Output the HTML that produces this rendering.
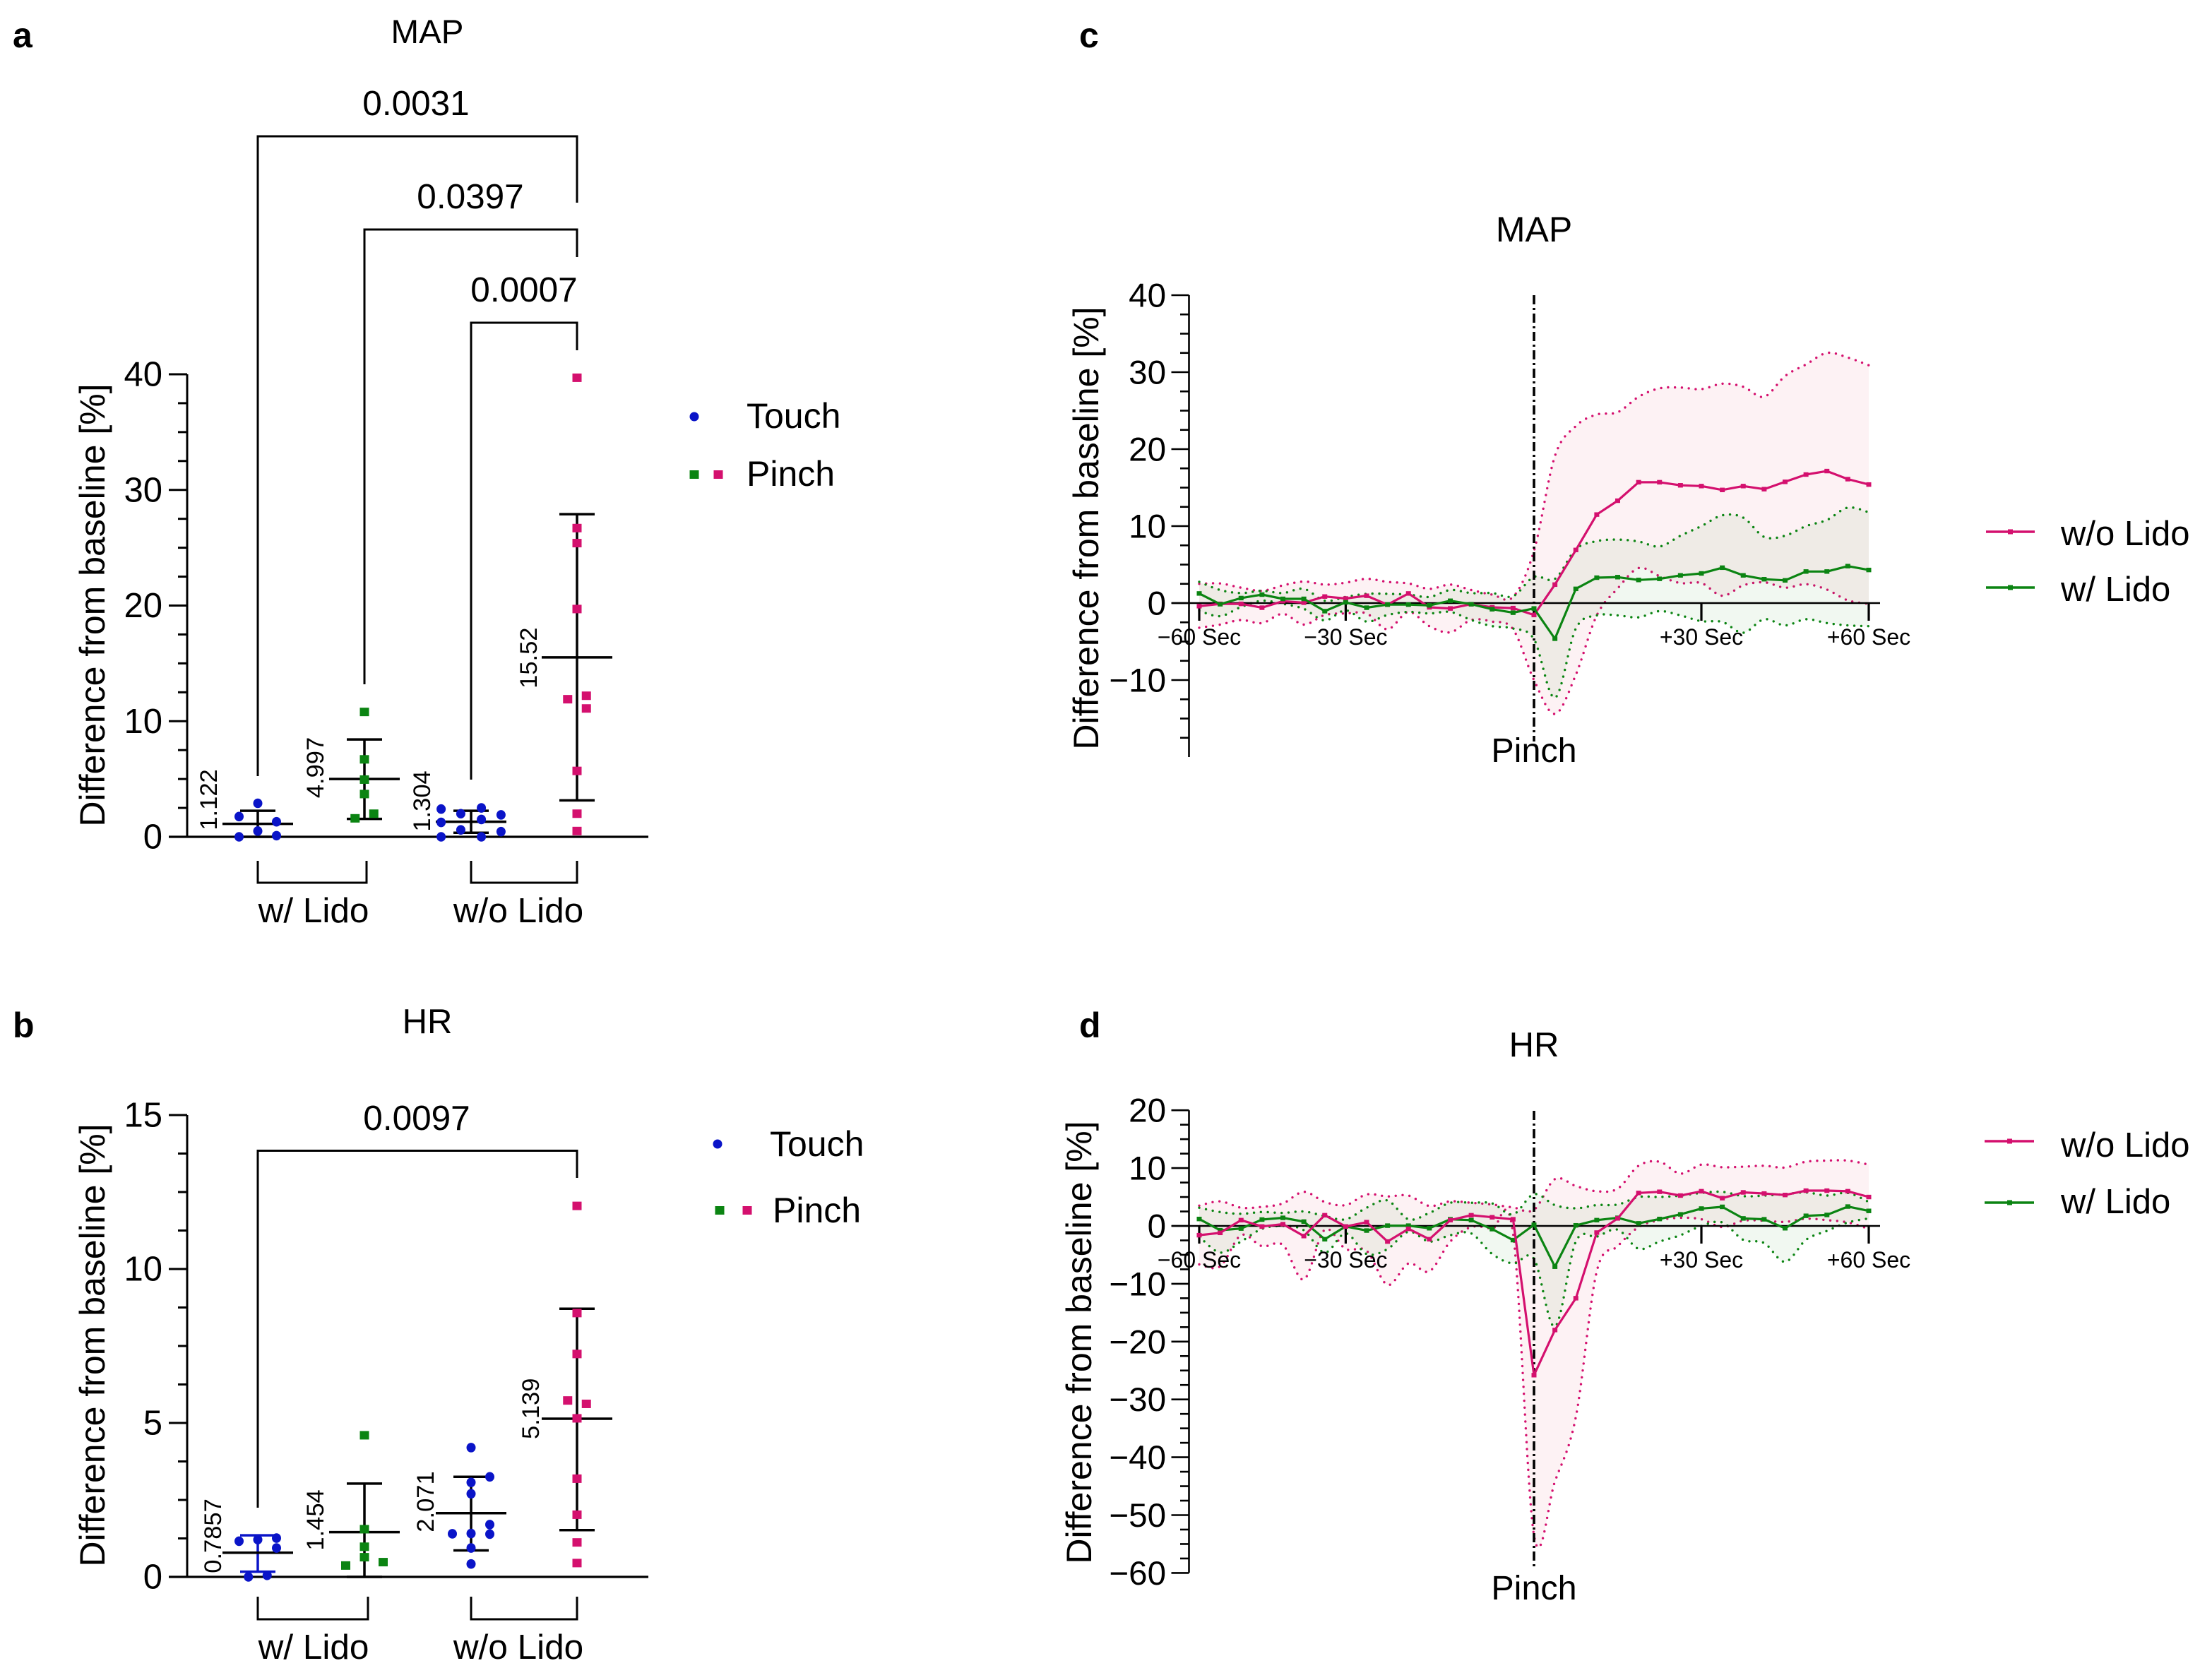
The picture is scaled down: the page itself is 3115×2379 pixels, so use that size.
<!DOCTYPE html>
<html lang="en">
<head>
<meta charset="utf-8">
<title>MAP and HR difference from baseline</title>
<style>
html,body{margin:0;padding:0;background:#fff;}
svg{display:block;}
text{font-family:"Liberation Sans",Arial,sans-serif;fill:#000;}
.t47{font-size:47.5px;}
.t49{font-size:49px;}
.t50{font-size:50px;}
.lt{font-size:50px;font-weight:bold;}
.yt{font-size:50px;text-anchor:middle;}
</style>
</head>
<body>
<svg id="fig" xmlns="http://www.w3.org/2000/svg" width="3115" height="2379" viewBox="0 0 3115 2379">
<rect x="0" y="0" width="3115" height="2379" fill="#fff"/>

<text class="lt" x="18" y="67">a</text>
<text class="lt" x="18" y="1469">b</text>
<text class="lt" x="1528" y="67">c</text>
<text class="lt" x="1528" y="1469">d</text>

<text class="t47" x="605" y="61" text-anchor="middle">MAP</text>
<text class="t49" x="605" y="1463" text-anchor="middle">HR</text>
<text class="t50" x="2172" y="342" text-anchor="middle">MAP</text>
<text class="t49" x="2172" y="1496" text-anchor="middle">HR</text>

<text class="yt" transform="translate(148,857) rotate(-90)">Difference from baseline [%]</text>
<text class="yt" transform="translate(148,1905) rotate(-90)">Difference from baseline [%]</text>
<text class="yt" transform="translate(1555,748) rotate(-90)">Difference from baseline [%]</text>
<text class="yt" transform="translate(1545,1901) rotate(-90)">Difference from baseline [%]</text>

<g id="panel-a"></g>
<g id="panel-b"></g>
<g id="panel-c"></g>
<g id="panel-d"></g>

<!-- legends -->
<g>
  <circle cx="983" cy="590" r="6.5" fill="#0a14c8"/>
  <text class="t50" x="1057" y="606">Touch</text>
  <rect x="976.5" y="666" width="13" height="12" fill="#0b8412"/>
  <rect x="1010.5" y="666" width="13" height="12" fill="#d4106e"/>
  <text class="t50" x="1057" y="688">Pinch</text>
</g>
<g>
  <circle cx="1016" cy="1620" r="6.5" fill="#0a14c8"/>
  <text class="t50" x="1090" y="1637">Touch</text>
  <rect x="1012.5" y="1708" width="13" height="12" fill="#0b8412"/>
  <rect x="1051.5" y="1708" width="13" height="12" fill="#d4106e"/>
  <text class="t50" x="1094" y="1731">Pinch</text>
</g>
<g>
  <line x1="2812" x2="2881" y1="753" y2="753" stroke="#d4106e" stroke-width="3.5"/>
  <rect x="2843" y="749.5" width="7" height="7" fill="#d4106e"/>
  <text class="t49" x="2918" y="772">w/o Lido</text>
  <line x1="2812" x2="2881" y1="832" y2="832" stroke="#0b8412" stroke-width="3.5"/>
  <rect x="2843" y="828.5" width="7" height="7" fill="#0b8412"/>
  <text class="t49" x="2918" y="851">w/ Lido</text>
</g>
<g>
  <line x1="2810" x2="2880" y1="1616" y2="1616" stroke="#d4106e" stroke-width="3.5"/>
  <rect x="2842" y="1612.5" width="7" height="7" fill="#d4106e"/>
  <text class="t49" x="2918" y="1638">w/o Lido</text>
  <line x1="2810" x2="2880" y1="1703" y2="1703" stroke="#0b8412" stroke-width="3.5"/>
  <rect x="2842" y="1699.5" width="7" height="7" fill="#0b8412"/>
  <text class="t49" x="2918" y="1718">w/ Lido</text>
</g>
</svg>

<script>
/* ---------- Panel a data ---------- */
const aTicks = [0, 10, 20, 30, 40];
const aG1Values = [2.9, 1.75, 1.3, 0.5, 0, 0.1];
const aG1Slots  = [0, -1, 1, 0, -1, 1];
const aG2Values = [10.8, 6.7, 4.95, 3.7, 2.0, 1.6];
const aG2Slots  = [0, 0, 0, 0, 0.5, -0.5];
const aG3Values = [2.4, 2.0, 2.5, 1.9, 1.25, 1.5, 0.6, 0.45, 0, 0];
const aG3Slots  = [-1.6, -0.55, 0.55, 1.6, -1.6, 0.55, -0.55, 1.6, -1.6, 0.55];
const aG4Values = [39.7, 26.7, 25.4, 19.7, 12.2, 11.9, 11.1, 5.7, 2.0, 0.5];
const aG4Slots  = [0, 0, 0, 0, 0.5, -0.5, 0.5, 0, 0, 0];
const aMeans = [1.122, 4.997, 1.304, 15.52];
const aUpper = [2.25, 8.42, 2.25, 27.9];
const aLower = [0, 1.55, 0.35, 3.15];
const aMeanLabels = ["1.122", "4.997", "1.304", "15.52"];
const aPValues = ["0.0031", "0.0397", "0.0007"];

/* ---------- Panel b data ---------- */
const bTicks = [0, 5, 10, 15];
const bG1Values = [1.16, 1.21, 1.26, 0.94, 0, 0.05];
const bG1Slots  = [-1, 0, 1, 1, -0.5, 0.5];
const bG2Values = [4.6, 1.55, 0.98, 0.64, 0.48, 0.37];
const bG2Slots  = [0, 0, 0, 0, 1, -1];
const bG3Values = [4.2, 3.25, 3.07, 2.7, 1.7, 1.4, 1.41, 1.39, 0.94, 0.42];
const bG3Slots  = [0, 1, 0, 0, 1, -1, 0, 1, 0, 0];
const bG4Values = [12.05, 8.57, 7.24, 5.73, 5.62, 5.15, 3.19, 2.02, 1.12, 0.45];
const bG4Slots  = [0, 0, 0, -0.5, 0.5, 0, 0, 0, 0, 0];
const bMeans = [0.7857, 1.454, 2.071, 5.139];
const bUpper = [1.35, 3.03, 3.25, 8.71];
const bLower = [0.17, 0, 0.86, 1.52];
const bMeanLabels = ["0.7857", "1.454", "2.071", "5.139"];
const bPValues = ["0.0097"];

/* ---------- Time course shared ---------- */
const xTickIndex = [0, 7, 24, 32];
const xTickLabels = ["\u221260 Sec", "\u221230 Sec", "+30 Sec", "+60 Sec"];

/* ---------- Panel c data ---------- */
const cTicks = [-10, 0, 10, 20, 30, 40];
const cPink = [-0.4,-0.1,-0.1,-0.6,0.25,0.05,0.85,0.6,0.95,-0.2,1.25,-0.55,-0.7,-0.15,-0.55,-0.65,-1.55,2.4,6.9,11.5,13.3,15.7,15.7,15.3,15.2,14.7,15.2,14.8,15.75,16.7,17.15,16.1,15.4];
const cPinkUpper = [2.5,2.55,2.0,1.6,2.3,2.8,2.4,2.65,3.15,2.75,2.55,1.85,2.4,1.7,1.1,0.8,6.8,19.1,23,24.5,24.8,26.8,27.9,28,27.8,28.5,28.1,26.8,29.5,31,32.5,31.9,30.9];
const cPinkLower = [-3.2,-2.8,-2.2,-2.6,-1.4,-2.8,-1.55,-1.35,-1.35,-3.4,-1.15,-3,-3.8,-2.2,-2.4,-3.4,-10,-14.4,-9.3,-1.6,1.9,4.55,3.5,2.6,2.6,0.95,2.3,2.7,2.0,2.45,1.75,0.35,-0.1];
const cGreen = [1.25,-0.15,0.65,1.1,0.55,0.55,-1.05,0.1,-0.6,-0.2,-0.2,-0.3,0.3,-0.15,-0.8,-1.25,-0.7,-4.63,1.85,3.3,3.37,3.0,3.15,3.6,3.85,4.6,3.6,3.1,2.95,4.1,4.1,4.8,4.3];
const cGreenUpper = [2.75,1.7,1.3,1.6,1.3,1.85,0.3,0.8,1.2,1.2,1.1,0.8,1.7,1.3,1.3,0.9,3.4,3.15,7,8.05,8.25,8,7.35,8.75,10,11.4,11.1,8.6,8.75,10,10.8,12.4,11.8];
const cGreenLower = [-1,-1.7,-0.5,0.3,-0.1,-0.75,-2.25,-0.95,-2.4,-1.55,-1.15,-1.35,-1.15,-2.2,-3,-3.3,-4.7,-12.3,-3.3,-1.6,-1.6,-1.85,-1.05,-1.6,-2.35,-2.45,-3.85,-2.1,-2.9,-2.1,-2.6,-2.9,-3];

/* ---------- Panel d data ---------- */
const dTicks = [-60, -50, -40, -30, -20, -10, 0, 10, 20];
const dPink = [-1.6,-1.2,1.0,-0.1,0.3,-1.75,1.85,-0.1,0.65,-2.7,-0.5,-2.3,1.0,1.85,1.5,1.15,-25.8,-18,-12.5,-1.15,1.3,5.7,5.9,5.25,6,4.8,5.8,5.6,5.35,6.1,6.1,6,5];
const dPinkUpper = [3.5,4.25,3.15,3.3,3.9,5.9,4.15,3.6,5.45,5.1,5.25,3.45,4.25,4,3.7,3.2,2.8,8.1,6.9,6,6.45,10.4,11.1,9.05,10.6,10.15,10.25,10.4,10.1,11.1,11.3,11.3,10.6];
const dPinkLower = [-6.65,-7,-1.6,-3.5,-3.3,-9.25,-0.65,-4,-4.3,-10.2,-6.5,-7.85,-2.7,-0.2,-0.5,-1.3,-53.5,-44.2,-33,-7.85,-3.5,-0.2,1,1.4,1.15,-0.2,0.9,0.9,0.7,1.25,1,0.6,-0.5];
const dGreen = [1.2,-0.75,-0.45,1.1,1.4,0.75,-2.3,-0.1,-0.8,0.05,0.05,-0.4,1.15,1,-0.55,-2.45,0.2,-7.05,0.1,1,1.4,0.45,1.2,2,3,3.3,1.3,1.15,-0.4,1.75,1.9,3.35,2.6];
const dGreenUpper = [3.15,2.4,2.1,2.4,2.25,2.5,1.7,1.15,3.15,4.4,1.15,2.25,4,4,3.9,2,5.5,3.6,3.05,3.6,3.7,5,5,5.25,5.7,5.9,5.15,5.25,5.5,5.8,5.25,5.7,4.15];
const dGreenLower = [-1.85,-4.6,-2.7,-0.5,0,-0.75,-4.6,-1.3,-4.85,-4,-1,-2.7,-1.6,-1.3,-4.85,-6.5,-5.7,-17.4,-2.7,-1.85,-0.65,-3.95,-2.7,-1.6,0,0.6,-2.4,-2.95,-6.2,-2.4,-0.85,0.6,1.3];

/* ---------- drawing ---------- */
const NS = "http://www.w3.org/2000/svg";
const PINK = "#d4106e", GREEN = "#0b8412", BLUE = "#0a14c8";
const PINK_FILL = "#d72846", GREEN_FILL = "#0b8412";

function make(tag, attrs, parent) {
  const el = document.createElementNS(NS, tag);
  for (const k in attrs) el.setAttribute(k, attrs[k]);
  parent.appendChild(el);
  return el;
}
function seg(parent, x1, y1, x2, y2, color, width) {
  const el = make("line", {x1, y1, x2, y2, stroke: color, "stroke-width": width}, parent);
  
  return el;
}
function smooth(xs, ys) {
  let d = "";
  for (let i = 0; i < xs.length - 1; i++) {
    const i0 = Math.max(0, i - 1), i3 = Math.min(xs.length - 1, i + 2);
    const c1x = xs[i] + (xs[i + 1] - xs[i0]) / 6, c1y = ys[i] + (ys[i + 1] - ys[i0]) / 6;
    const c2x = xs[i + 1] - (xs[i3] - xs[i]) / 6, c2y = ys[i + 1] - (ys[i3] - ys[i]) / 6;
    d += "C" + c1x.toFixed(1) + " " + c1y.toFixed(1) + " " + c2x.toFixed(1) + " " + c2y.toFixed(1) + " " + xs[i + 1].toFixed(1) + " " + ys[i + 1].toFixed(1);
  }
  return d;
}

function drawYAxis(parent, axisX, yScale, ticks, minorStep, lo, hi, bottomY, fontSize, sw, labelRight, majorLen, minorLen) {
  const axisLine = seg(parent, axisX, yScale(hi), axisX, bottomY, "#000", sw);
  
  for (let k = 0, v = lo; v <= hi + 1e-6; k++, v = lo + k * minorStep) {
    const isMajor = ticks.some(t => Math.abs(t - v) < 1e-6);
    const tick = seg(parent, axisX - (isMajor ? majorLen : minorLen), yScale(v), axisX, yScale(v), "#000", sw);
    
  }
  ticks.forEach(t => {
    const label = make("text", {x: labelRight, y: yScale(t) + 16.5, "text-anchor": "end", "font-size": fontSize}, parent);
    
    
    label.textContent = (t < 0 ? "\u2212" : "") + Math.abs(t);
  });
}

function drawBracket(parent, xL, xR, yTop, yLeftEnd, yRightEnd) {
  const p = make("path", {d: "M" + xL + " " + yLeftEnd + "V" + yTop + "H" + xR + "V" + yRightEnd, fill: "none", stroke: "#000", "stroke-width": 3}, parent);
  
  
}
function drawPLabel(parent, txt, x, y) {
  const el = make("text", {x, y, "text-anchor": "middle", "font-size": 49.5}, parent);
  
  
  el.textContent = txt;
}

const groupX = [365, 516, 667, 817];
const SLOT = 26.5;

function drawGroup(parent, idx, values, slots, mean, upper, lower, yScale, color, square, errColor) {
  const cx = groupX[idx];
  const err = seg(parent, cx, yScale(upper), cx, yScale(lower), errColor, 3.5);
  
  const capU = seg(parent, cx - 25, yScale(upper), cx + 25, yScale(upper), errColor, 3.5);
  
  const capL = seg(parent, cx - 25, yScale(lower), cx + 25, yScale(lower), errColor, 3.5);
  
  const m = seg(parent, cx - 50, yScale(mean), cx + 50, yScale(mean), "#000", 3.5);
  
  values.forEach((v, i) => {
    const px = cx + slots[i] * SLOT, py = yScale(v);
    let pt;
    if (square) pt = make("rect", {x: px - 6.5, y: py - 6, width: 13, height: 12, fill: color}, parent);
    else pt = make("ellipse", {cx: px, cy: py, rx: 6.5, ry: 6.8, fill: color}, parent);
    
    
  });
}
function drawMeanLabel(parent, txt, x, y) {
  const el = make("text", {"font-size": 34.5, transform: "translate(" + x + "," + y + ") rotate(-90)"}, parent);
  
  
  el.textContent = txt;
}
function drawGroupBracket(parent, xL, xR, yTop, yBottom, txt, txtX, txtY) {
  const p = make("path", {d: "M" + xL + " " + yTop + "V" + yBottom + "H" + xR + "V" + yTop, fill: "none", stroke: "#000", "stroke-width": 3}, parent);
  
  
  const t = make("text", {x: txtX, y: txtY, "text-anchor": "middle", "font-size": 49.5}, parent);
  
  
  t.textContent = txt;
}

/* panel a */
(function () {
  const g = document.getElementById("panel-a");
  const y0 = 1185, pxPerUnit = 16.375;
  const y = v => y0 - v * pxPerUnit;
  drawBracket(g, 365, 817, 193, 1099, 287);
  drawBracket(g, 516, 817, 325, 969, 364);
  drawBracket(g, 667, 817, 457, 1104, 496);
  drawPLabel(g, aPValues[0], 589, 163);
  drawPLabel(g, aPValues[1], 666, 295);
  drawPLabel(g, aPValues[2], 742, 427);
  drawYAxis(g, 265, y, aTicks, 2.5, 0, 40, y0, 49, 3, 230, 26, 13);
  const base = seg(g, 239, y0, 918, y0, "#000", 3.2);
  
  drawGroup(g, 0, aG1Values, aG1Slots, aMeans[0], aUpper[0], aLower[0], y, BLUE, false, "#000");
  drawGroup(g, 1, aG2Values, aG2Slots, aMeans[1], aUpper[1], aLower[1], y, GREEN, true, "#000");
  drawGroup(g, 2, aG3Values, aG3Slots, aMeans[2], aUpper[2], aLower[2], y, BLUE, false, "#000");
  drawGroup(g, 3, aG4Values, aG4Slots, aMeans[3], aUpper[3], aLower[3], y, PINK, true, "#000");
  drawMeanLabel(g, aMeanLabels[0], 307, y(aMeans[0]) + 9);
  drawMeanLabel(g, aMeanLabels[1], 458, y(aMeans[1]) + 27);
  drawMeanLabel(g, aMeanLabels[2], 609, y(aMeans[2]) + 14);
  drawMeanLabel(g, aMeanLabels[3], 760, y(aMeans[3]) + 44);
  drawGroupBracket(g, 365, 519, 1219, 1250, "w/ Lido", 444, 1306);
  drawGroupBracket(g, 667, 817, 1219, 1250, "w/o Lido", 734, 1306);
})();

/* panel b */
(function () {
  const g = document.getElementById("panel-b");
  const y0 = 2233, pxPerUnit = 43.6;
  const y = v => y0 - v * pxPerUnit;
  drawBracket(g, 365, 817, 1629.5, 2135, 1668);
  drawPLabel(g, bPValues[0], 590, 1600);
  drawYAxis(g, 265, y, bTicks, 1.25, 0, 15, y0, 49, 3, 230, 26, 13);
  const base = seg(g, 239, y0, 918, y0, "#000", 3.2);
  
  drawGroup(g, 0, bG1Values, bG1Slots, bMeans[0], bUpper[0], bLower[0], y, BLUE, false, BLUE);
  drawGroup(g, 1, bG2Values, bG2Slots, bMeans[1], bUpper[1], bLower[1], y, GREEN, true, "#000");
  drawGroup(g, 2, bG3Values, bG3Slots, bMeans[2], bUpper[2], bLower[2], y, BLUE, false, "#000");
  drawGroup(g, 3, bG4Values, bG4Slots, bMeans[3], bUpper[3], bLower[3], y, PINK, true, "#000");
  drawMeanLabel(g, bMeanLabels[0], 313, y(bMeans[0]) + 29);
  drawMeanLabel(g, bMeanLabels[1], 458, y(bMeans[1]) + 26);
  drawMeanLabel(g, bMeanLabels[2], 614, y(bMeans[2]) + 27);
  drawMeanLabel(g, bMeanLabels[3], 763, y(bMeans[3]) + 29);
  drawGroupBracket(g, 365, 521, 2261, 2293, "w/ Lido", 444, 2349);
  drawGroupBracket(g, 667, 817, 2261, 2293, "w/o Lido", 734, 2349);
})();

/* panels c, d */
const AXIS_X = 1683.5;
const X0 = 1698, DX = 29.625;
const xOf = i => X0 + i * DX;

function drawBand(parent, upper, lower, yScale, color, fillColor) {
  const xs = upper.map((_, i) => xOf(i));
  const yu = upper.map(yScale);
  const yl = lower.map(yScale);
  const rx = xs.slice().reverse(), ryl = yl.slice().reverse();
  const area = make("path", {
    d: "M" + xs[0] + " " + yu[0].toFixed(1) + smooth(xs, yu) + "L" + rx[0] + " " + ryl[0].toFixed(1) + smooth(rx, ryl) + "Z",
    fill: fillColor, "fill-opacity": 0.06, stroke: "none"
  }, parent);
  
  
  [yu, yl].forEach(ys => {
    const dots = make("path", {
      d: "M" + xs[0] + " " + ys[0].toFixed(1) + smooth(xs, ys),
      fill: "none", stroke: color, "stroke-width": 3.4, "stroke-linecap": "round", "stroke-dasharray": "0 9.8"
    }, parent);
    
    
  });
}
function drawMeanSeries(parent, values, yScale, color) {
  const pts = values.map((v, i) => xOf(i).toFixed(1) + "," + yScale(v).toFixed(1)).join(" ");
  const line = make("polyline", {points: pts, fill: "none", stroke: color, "stroke-width": 3.2, "stroke-linejoin": "round"}, parent);
  
  
  values.forEach((v, i) => {
    const r = make("rect", {x: xOf(i) - 3.5, y: yScale(v) - 3.2, width: 7, height: 6.4, fill: color}, parent);
    
    
  });
}
function drawTimeCourse(g, opt) {
  const y = opt.y;
  drawBand(g, opt.pU, opt.pL, y, PINK, PINK_FILL);
  drawBand(g, opt.gU, opt.gL, y, GREEN, GREEN_FILL);
  drawYAxis(g, AXIS_X, y, opt.ticks, 2.5, opt.lo, opt.hi, opt.bottom, 47.5, 2.6, 1651, 25, 12.5);
  const zero = seg(g, 1659, y(0), 2662, y(0), "#000", 2.4);
  
  xTickIndex.forEach((idx, k) => {
    const t = seg(g, xOf(idx), y(0), xOf(idx), y(0) + 25, "#000", 3.2);
    
    const l = make("text", {x: xOf(idx), y: opt.xLabelY, "text-anchor": "middle", "font-size": 32}, g);
    
    
    l.textContent = xTickLabels[k];
  });
  const v = seg(g, 2172, opt.pinchTop, 2172, opt.pinchBottom, "#000", 3.6);
  v.setAttribute('stroke-dasharray', '13 5 3 5');
  
  opt.order.forEach(s => drawMeanSeries(g, s.values, y, s.color));
  const p = make("text", {x: 2172, y: opt.pinchLabelY, "text-anchor": "middle", "font-size": 48.5}, g);
  
  
  p.textContent = "Pinch";
}
drawTimeCourse(document.getElementById("panel-c"), {
  y: v => 854 - v * 10.9,
  ticks: cTicks, lo: -17.5, hi: 40, bottom: 1072,
  pU: cPinkUpper, pL: cPinkLower, gU: cGreenUpper, gL: cGreenLower,
  xLabelY: 913, pinchTop: 418, pinchBottom: 1050, pinchLabelY: 1079,
  order: [{values: cPink, color: PINK}, {values: cGreen, color: GREEN}]
});
drawTimeCourse(document.getElementById("panel-d"), {
  y: v => 1736 - v * 8.19,
  ticks: dTicks, lo: -60, hi: 20, bottom: 2227,
  pU: dPinkUpper, pL: dPinkLower, gU: dGreenUpper, gL: dGreenLower,
  xLabelY: 1795, pinchTop: 1573, pinchBottom: 2218, pinchLabelY: 2265,
  order: [{values: dGreen, color: GREEN}, {values: dPink, color: PINK}]
});
</script>
</body>
</html>
